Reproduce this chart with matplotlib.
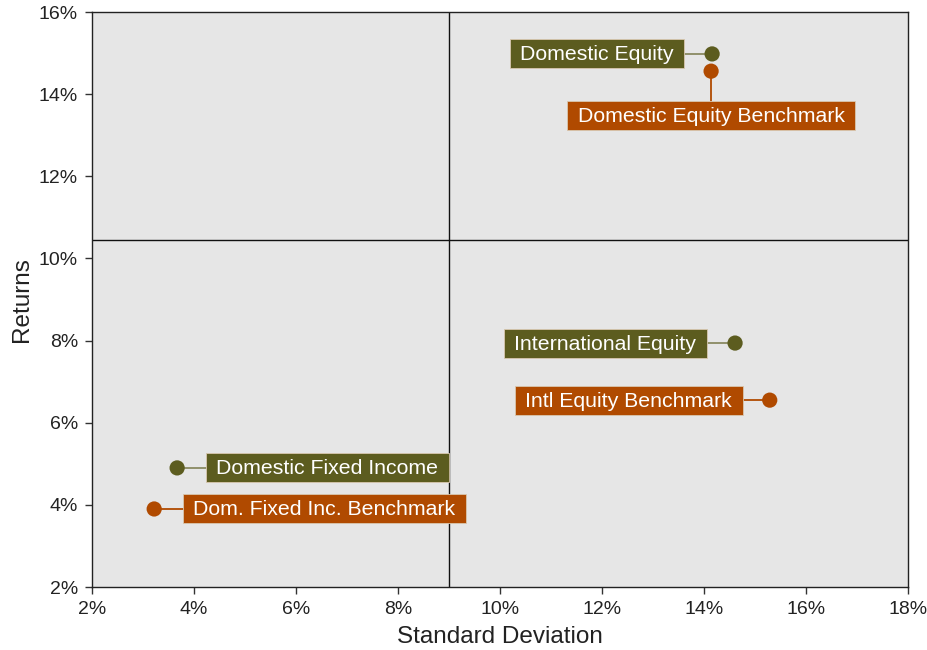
import matplotlib
matplotlib.use("Agg")
import matplotlib.pyplot as plt
from matplotlib.patches import Rectangle
from matplotlib.lines import Line2D
from matplotlib.ticker import FuncFormatter

plt.rcParams["font.family"] = ["Liberation Sans", "DejaVu Sans"]

# data: (std dev %, return %)
names = ["Domestic Equity", "Domestic Equity Benchmark", "International Equity",
         "Intl Equity Benchmark", "Domestic Fixed Income", "Dom. Fixed Inc. Benchmark"]
std_dev = [14.16, 14.14, 14.61, 15.29, 3.67, 3.22]
returns = [14.98, 14.56, 7.94, 6.55, 4.90, 3.90]
is_benchmark = [False, True, False, True, False, True]
# label centre offsets in pixels from the dot
label_dx = [-115, 0, -130, -141, 150, 170]
label_dy = [0, -44, 0, 0, 0, 0]

x_split = 9.0
y_split = 10.45

OLIVE = "#5c5c1f"
ORANGE = "#b04a00"

fig = plt.figure(figsize=(9.28, 6.5), dpi=100)
ax = fig.add_axes([0.0991, 0.0969, 0.8793, 0.8846])
ax.set_facecolor("#e6e6e6")
ax.set_xlim(2, 18)
ax.set_ylim(2, 16)
ax.set_xticks(range(2, 19, 2))
ax.set_yticks(range(2, 17, 2))
pct = FuncFormatter(lambda v, _: f"{v:.0f}%")
ax.xaxis.set_major_formatter(pct)
ax.yaxis.set_major_formatter(pct)
ax.tick_params(labelsize=14, length=5, width=1, pad=5, color="#333333", labelcolor="#222222")
for sp in ax.spines.values():
    sp.set_color("#222222")
    sp.set_linewidth(1)

ax.axvline(x_split, color="#111111", lw=1, zorder=1)
ax.axhline(y_split, color="#111111", lw=1, zorder=1)

ax.set_xlabel("Standard Deviation", fontsize=17.5, color="#222222", labelpad=6)
ax.set_ylabel("Returns", fontsize=17.5, color="#222222", labelpad=4)

texts = []
for name, x, y, bm, dx, dy in zip(names, std_dev, returns, is_benchmark, label_dx, label_dy):
    c = ORANGE if bm else OLIVE
    ax.scatter([x], [y], s=120, color=c, zorder=5, edgecolors="none")
    t = ax.annotate(name, xy=(x, y), xytext=(dx, dy - 1), textcoords="offset pixels",
                    ha="center", va="center", fontsize=15.3, color="white", zorder=6)
    texts.append(t)

# boxes and leader lines, sized from the rendered text
fig.canvas.draw()
renderer = fig.canvas.get_renderer()
pad_x, pad_y = 10.5, 5.0
for t, x, y, bm, dx, dy in zip(texts, std_dev, returns, is_benchmark, label_dx, label_dy):
    c = ORANGE if bm else OLIVE
    line_c = ORANGE if bm else "#8a8a62"
    bb = t.get_window_extent(renderer)
    px, py = ax.transData.transform((x, y))
    w, h = bb.width + 2 * pad_x, bb.height + 2 * pad_y
    x0 = bb.x0 - pad_x
    y0 = py + dy - h / 2
    ax.add_artist(Rectangle((x0, y0), w, h, transform=None, fc=c, ec="#d9c8b0",
                            lw=0.6, zorder=3))
    if dy == 0:
        ex = x0 + w if dx < 0 else x0
        seg = Line2D([px, ex], [py, py], transform=None, color=line_c, lw=1.3, zorder=2)
    else:
        ey = y0 + h if dy < 0 else y0
        seg = Line2D([px, px], [py, ey], transform=None, color=line_c, lw=1.3, zorder=2)
    ax.add_artist(seg)

fig.savefig("out.png", dpi=100)
